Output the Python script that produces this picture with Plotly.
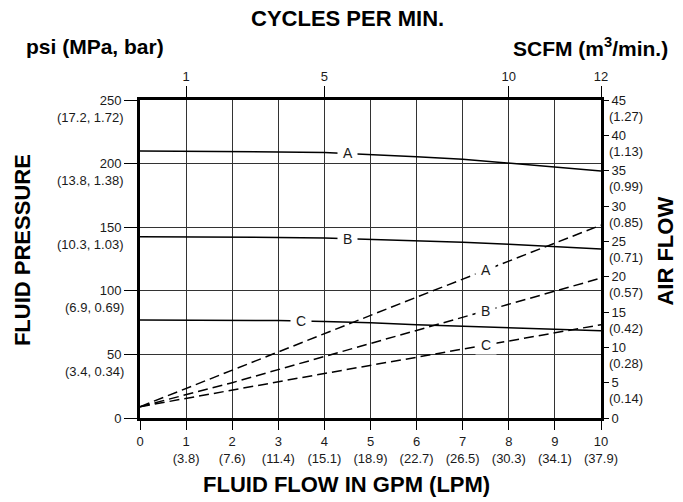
import plotly.graph_objects as go

# ---- data ----
gpm_solid = [0, 1, 2, 3, 4, 5, 6, 7, 8, 9, 10]
psi_A = [209.9, 209.8, 209.6, 209.2, 208.7, 207.2, 205.4, 203.4, 200.5, 197.6, 194.2]
psi_B = [142.5, 142.5, 142.3, 142.0, 141.6, 140.6, 139.4, 138.2, 136.6, 134.8, 132.9]
psi_C = [77.0, 77.0, 76.8, 76.6, 75.8, 74.9, 73.3, 72.1, 71.0, 69.8, 68.6]

gpm_air = [0, 2, 4, 6, 8, 10]
scfm_A = [1.6, 6.8, 11.9, 17.1, 22.2, 27.3]
scfm_B = [1.6, 5.0, 8.7, 12.4, 16.1, 19.8]
scfm_C = [1.6, 4.0, 6.3, 8.6, 10.9, 13.2]

psi_ticks = [0, 50, 100, 150, 200, 250]
psi_sub = ["", "(3.4, 0.34)", "(6.9, 0.69)", "(10.3, 1.03)", "(13.8, 1.38)", "(17.2, 1.72)"]

scfm_ticks = [0, 5, 10, 15, 20, 25, 30, 35, 40, 45]
scfm_sub = ["", "(0.14)", "(0.28)", "(0.42)", "(0.57)", "(0.71)", "(0.85)", "(0.99)", "(1.13)", "(1.27)"]

gpm_ticks = [0, 1, 2, 3, 4, 5, 6, 7, 8, 9, 10]
lpm_sub = ["", "(3.8)", "(7.6)", "(11.4)", "(15.1)", "(18.9)", "(22.7)", "(26.5)", "(30.3)", "(34.1)", "(37.9)"]

cycle_pos = [1, 4, 8, 10]
cycle_labels = ["1", "5", "10", "12"]

solid_labels = [("A", 4.5, 208.3), ("B", 4.5, 141.0), ("C", 3.5, 76.4)]
dash_labels = [("A", 7.5, 20.95), ("B", 7.5, 15.15), ("C", 7.5, 10.3)]

FONT = "Liberation Sans, Arial, sans-serif"
TXT = "#1a1a1a"

fig = go.Figure()
for ys in (psi_A, psi_B, psi_C):
    fig.add_trace(go.Scatter(x=gpm_solid, y=ys, mode="lines", yaxis="y",
                             line=dict(color="black", width=1.5), hoverinfo="skip",
                             showlegend=False))
for ys in (scfm_A, scfm_B, scfm_C):
    fig.add_trace(go.Scatter(x=gpm_air, y=ys, mode="lines", yaxis="y2",
                             line=dict(color="black", width=1.5, dash="10px,5px"),
                             hoverinfo="skip", showlegend=False))
# invisible trace to activate top axis
fig.add_trace(go.Scatter(x=[0, 10], y=[0, 0], xaxis="x2", yaxis="y", mode="markers",
                         marker=dict(opacity=0), hoverinfo="skip", showlegend=False))

ann = []
for name, x, y in solid_labels:
    ann.append(dict(x=x, y=y, xref="x", yref="y", text="&nbsp;" + name + "&nbsp;",
                    showarrow=False, bgcolor="white", borderpad=1,
                    font=dict(size=14, color=TXT, family=FONT)))
for name, x, y in dash_labels:
    ann.append(dict(x=x, y=y, xref="x", yref="y2", text="&nbsp;" + name + "&nbsp;",
                    showarrow=False, bgcolor="white", borderpad=1,
                    font=dict(size=14, color=TXT, family=FONT)))
for v, s in zip(psi_ticks, psi_sub):
    if s:
        ann.append(dict(x=-0.031, y=v, xref="paper", yref="y", text=s, showarrow=False,
                        xanchor="right", yanchor="middle", yshift=-17,
                        font=dict(size=13, color=TXT, family=FONT)))
for v, s in zip(scfm_ticks, scfm_sub):
    if s:
        ann.append(dict(x=1.012, y=v, xref="paper", yref="y2", text=s, showarrow=False,
                        xanchor="left", yanchor="middle", yshift=-16,
                        font=dict(size=13, color=TXT, family=FONT)))

ann += [
    dict(x=0.450, y=1.255, xref="paper", yref="paper", text="<b>CYCLES PER MIN.</b>",
         xanchor="center", yanchor="middle",
         showarrow=False, font=dict(size=22, color="black", family=FONT)),
    dict(x=-0.2516, y=1.167, xref="paper", yref="paper", text="<b>psi (MPa, bar)</b>",
         xanchor="left", yanchor="middle",
         showarrow=False, font=dict(size=21, color="black", family=FONT)),
    dict(x=1.1497, y=1.167, xref="paper", yref="paper", text="<b>SCFM (m<sup>3</sup>/min.)</b>",
         xanchor="right", yanchor="middle",
         showarrow=False, font=dict(size=21, color="black", family=FONT)),
    dict(x=-0.2560, y=0.528, xref="paper", yref="paper", text="<b>FLUID PRESSURE</b>",
         xanchor="center", yanchor="middle",
         showarrow=False, textangle=-90, font=dict(size=22, color="black", family=FONT)),
    dict(x=1.139, y=0.5236, xref="paper", yref="paper", text="<b>AIR FLOW</b>",
         xanchor="center", yanchor="middle",
         showarrow=False, textangle=-90, font=dict(size=22, color="black", family=FONT)),
    dict(x=0.448, y=-0.210, xref="paper", yref="paper", text="<b>FLUID FLOW IN GPM (LPM)</b>",
         xanchor="center", yanchor="middle",
         showarrow=False, font=dict(size=22, color="black", family=FONT)),
]

fig.update_layout(
    width=683, height=502,
    margin=dict(l=140, r=82, t=100, b=84),
    paper_bgcolor="white", plot_bgcolor="white",
    font=dict(family=FONT, size=13, color=TXT),
    annotations=ann,
    xaxis=dict(range=[0, 10], tickvals=gpm_ticks,
               ticktext=[f"{g}<br>{s}" if s else f"{g}" for g, s in zip(gpm_ticks, lpm_sub)],
               ticks="outside", ticklen=9, tickwidth=1, tickcolor="black",
               showgrid=True, gridcolor="#333", gridwidth=1,
               showline=True, linecolor="black", linewidth=3, mirror=True,
               zeroline=False, tickfont=dict(size=13, color=TXT)),
    xaxis2=dict(range=[0, 10], overlaying="x", side="top", anchor="y",
                tickvals=cycle_pos, ticktext=cycle_labels,
                ticks="outside", ticklen=13, tickwidth=1, tickcolor="black",
                showgrid=False, showline=False, zeroline=False,
                tickfont=dict(size=13, color=TXT)),
    yaxis=dict(range=[0, 250], tickvals=psi_ticks, ticktext=[str(v) for v in psi_ticks],
               ticks="outside", ticklen=13, tickwidth=1, tickcolor="black",
               showgrid=True, gridcolor="#333", gridwidth=1,
               showline=True, linecolor="black", linewidth=3, mirror=True,
               zeroline=False, tickfont=dict(size=13, color=TXT)),
    yaxis2=dict(range=[0, 45], overlaying="y", side="right", anchor="x",
                tickvals=scfm_ticks, ticktext=[str(v) for v in scfm_ticks],
                ticks="outside", ticklen=7, tickwidth=1, tickcolor="black",
                showgrid=False, showline=False, zeroline=False,
                tickfont=dict(size=13, color=TXT)),
)

fig.write_html("out.html", config={"displayModeBar": False},
               post_script="document.body.style.margin='0px';")
